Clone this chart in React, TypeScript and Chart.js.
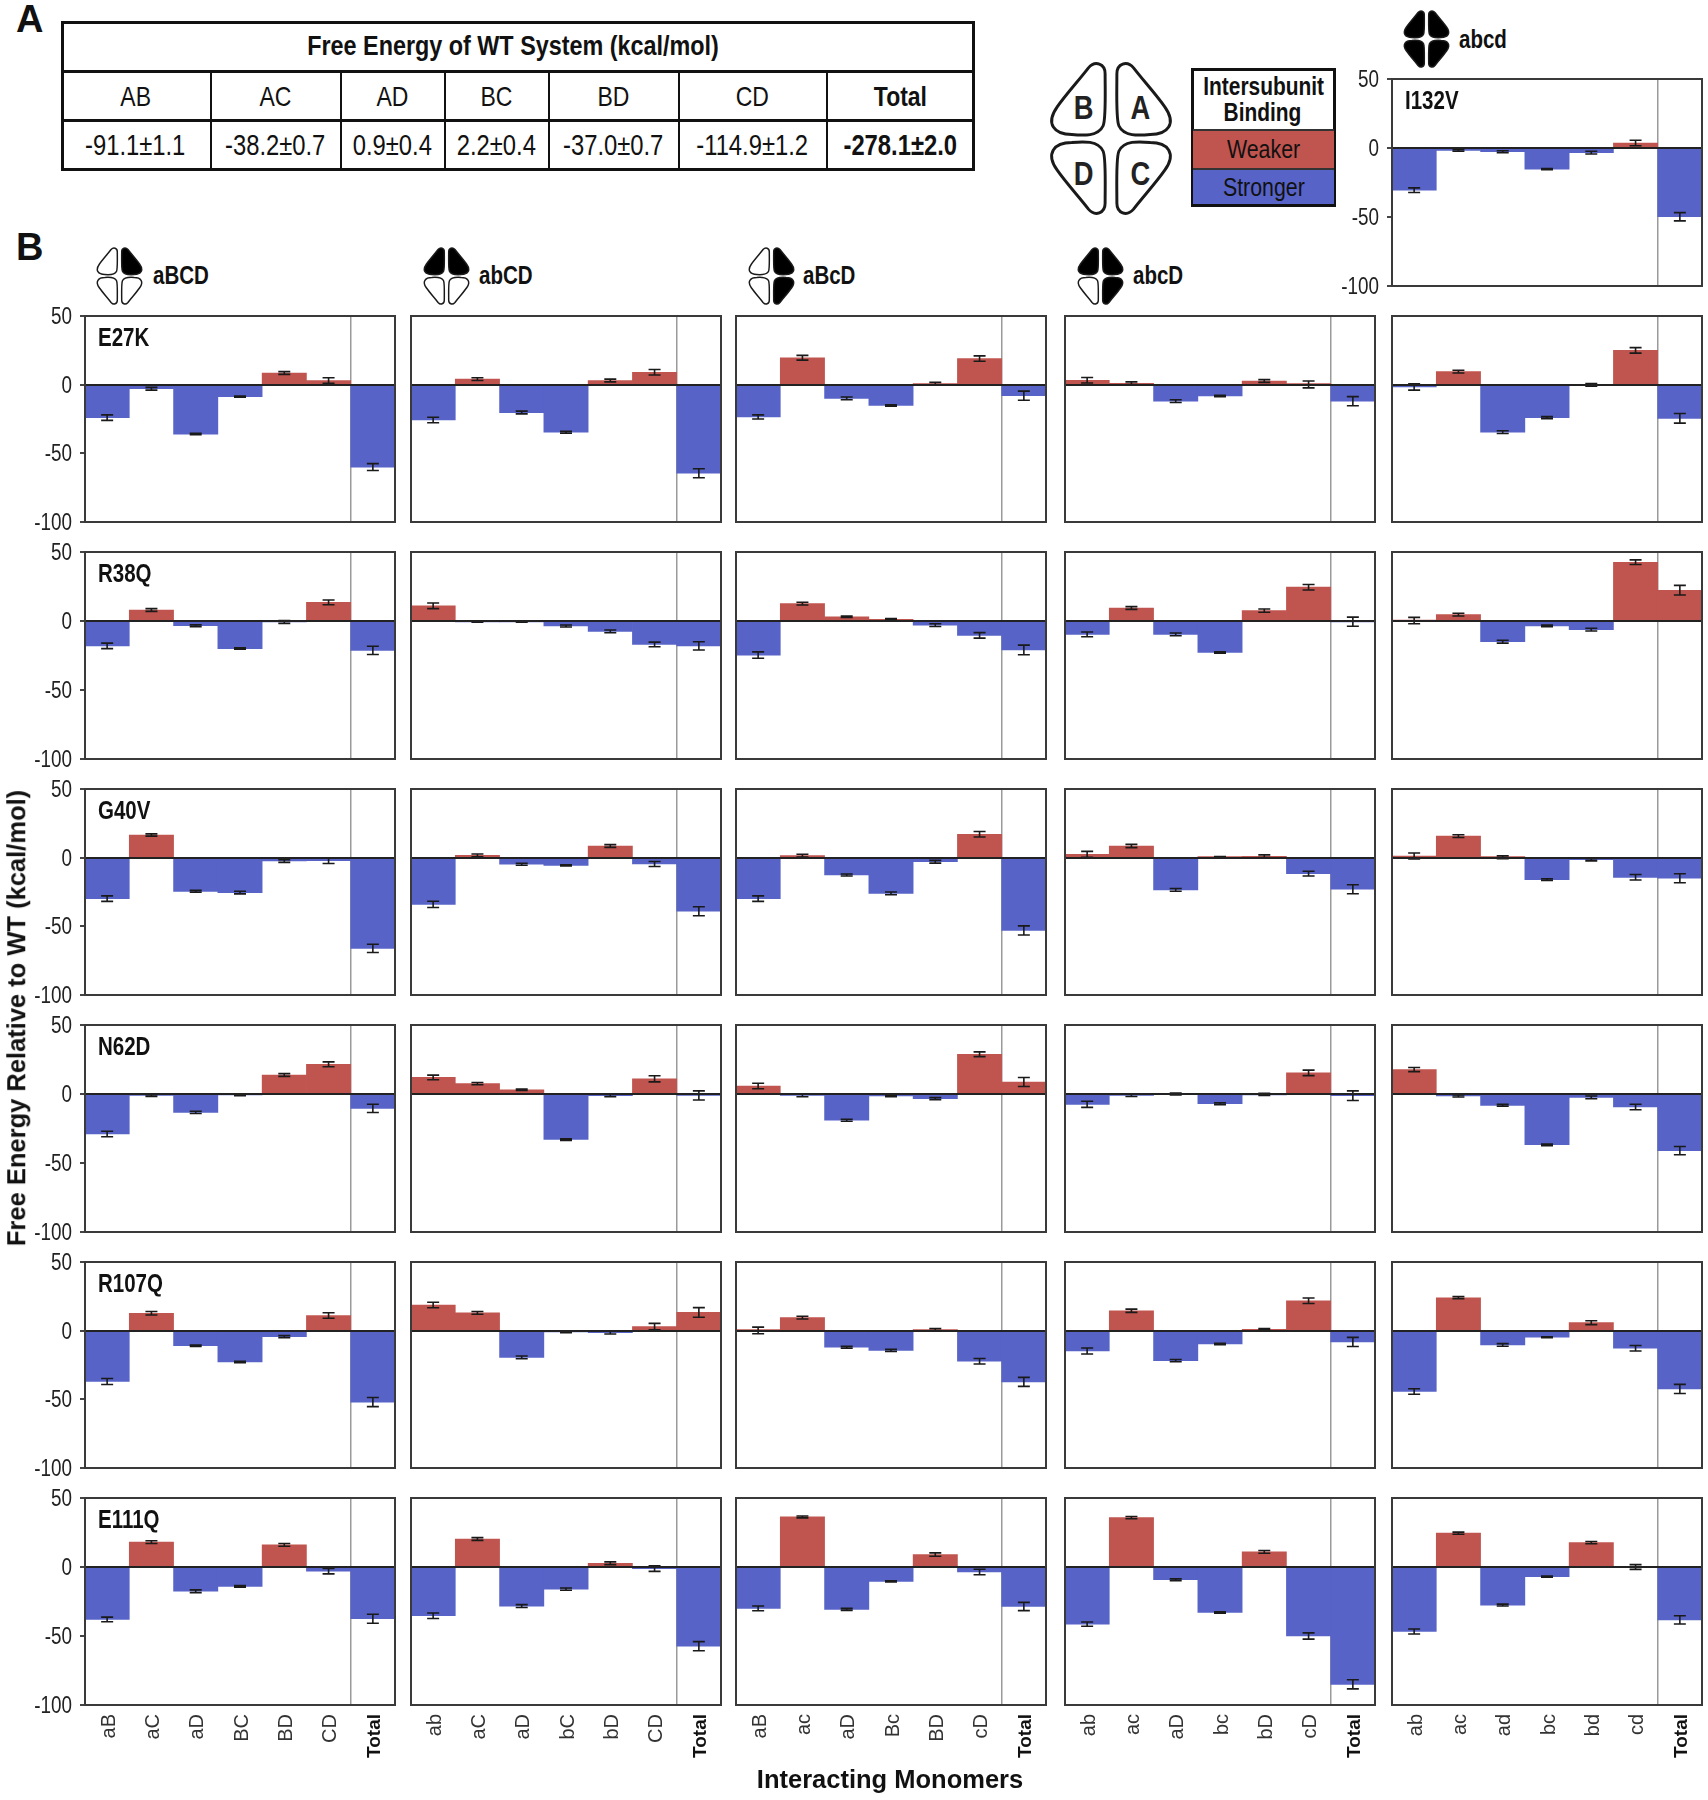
import React, { useEffect, useRef } from "react";
import { Chart, registerables } from "chart.js";

Chart.register(...registerables);

const WIDE = '"Liberation Sans", Arial, sans-serif';
const SQUEEZE = 0.82;
const RED = "#C0544F";
const BLUE = "#5763C7";

const labelsABCDcol = ["aB", "aC", "aD", "BC", "BD", "CD", "Total"];
const labelsAbCDcol = ["ab", "aC", "aD", "bC", "bD", "CD", "Total"];
const labelsABcDcol = ["aB", "ac", "aD", "Bc", "BD", "cD", "Total"];
const labelsAbcDcol = ["ab", "ac", "aD", "bc", "bD", "cD", "Total"];
const labelsAbcdcol = ["ab", "ac", "ad", "bc", "bd", "cd", "Total"];
const columnLabels = [labelsABCDcol, labelsAbCDcol, labelsABcDcol, labelsAbcDcol, labelsAbcdcol];

const mutations = ["E27K", "R38Q", "G40V", "N62D", "R107Q", "E111Q"];

const valuesE27K = [
  [-24, -3, -36, -8.7, 8.5, 3, -60],
  [-25.7, 4, -20.3, -34.6, 3, 9, -64.5],
  [-23.5, 19.6, -10, -15.2, 0.7, 19, -8],
  [3.2, 1, -12, -8.2, 2.7, 0.2, -12],
  [-1.7, 9.5, -34.6, -24, -0.2, 25, -24.5],
];
const errorsE27K = [
  [2, 1, 0.5, 0.5, 1, 2, 2.5],
  [2, 1, 1, 0.7, 1, 2, 3.3],
  [1.5, 1.7, 1, 0.5, 1, 2, 3.3],
  [2, 1, 1, 0.5, 1, 2.5, 3.3],
  [2.3, 1, 1, 0.7, 1, 2, 3.5],
];
const valuesR38Q = [
  [-18, 8, -3.4, -20, -0.7, 13.5, -21.3],
  [11, -0.3, -0.3, -3.6, -7.5, -17, -18],
  [-24.7, 12.6, 3, 1.2, -3, -10.4, -21],
  [-9.7, 9.4, -9.7, -22.8, 7.5, 24.5, -0.5],
  [0.3, 4.6, -15, -3.6, -6.3, 42.6, 22.3],
];
const errorsR38Q = [
  [2, 1, 0.7, 0.5, 1, 1.7, 3],
  [2, 0.5, 0.5, 0.7, 1, 1.7, 3],
  [2.3, 1, 0.5, 0.5, 1, 2, 3.5],
  [1.7, 1, 1, 0.5, 1.2, 2, 3.3],
  [2.3, 1, 1, 0.6, 1, 1.7, 3.5],
];
const valuesG40V = [
  [-29.8, 16.5, -24.5, -25.4, -2.4, -2.2, -66],
  [-34, 1.7, -4.8, -5.6, 8.5, -4.6, -39],
  [-29.8, 1.5, -12.6, -26, -3, 17, -53],
  [2.4, 8.5, -23.5, 0.5, 1, -11.6, -23],
  [1.2, 15.7, 0.3, -16, -1.5, -14.3, -15],
];
const errorsG40V = [
  [2, 0.8, 0.7, 1, 1, 2, 3],
  [2.3, 1, 0.7, 0.4, 1, 1.8, 3.3],
  [2, 1, 0.7, 1, 1, 2, 3.3],
  [2.2, 1.2, 1, 0.3, 1, 1.7, 3.3],
  [2.2, 1, 1, 0.6, 0.8, 2, 3.3],
];
const valuesN62D = [
  [-29, -1, -13.3, -0.7, 13.8, 21.5, -10.4],
  [12, 7.5, 3, -33, -1.2, 11, -1],
  [5.8, -1, -19, -1.4, -3.4, 28.8, 8.7],
  [-7.5, -1, 0, -7, -0.3, 15.3, -1.2],
  [17.7, -1.4, -8.2, -36.8, -2.4, -9.4, -41],
];
const errorsN62D = [
  [2, 0.7, 0.8, 0.6, 1, 1.8, 3],
  [1.7, 0.8, 0.5, 0.6, 0.8, 2.2, 3.3],
  [2, 1, 0.7, 0.6, 0.8, 1.7, 3.3],
  [2.2, 0.8, 0.6, 0.7, 0.8, 2, 3.5],
  [1.5, 0.8, 0.7, 0.6, 1, 2, 3],
];
const valuesR107Q = [
  [-37, 12.7, -11, -22.8, -4.4, 11, -52],
  [18.7, 13, -19.4, -1, -1.4, 3, 13.3],
  [0.2, 9.5, -12, -14.3, 0.7, -22.3, -37.3],
  [-14.8, 14.5, -21.8, -9.7, 1, 21.8, -8.2],
  [-44.3, 24, -10.4, -4.8, 5.8, -12.8, -42.4],
];
const errorsR107Q = [
  [2.2, 1.3, 0.5, 0.5, 0.8, 2, 3.3],
  [2, 1, 1, 0.5, 1, 2.3, 3.5],
  [2.4, 1, 0.7, 0.8, 0.8, 2, 3.3],
  [2.2, 1.2, 0.8, 0.5, 0.6, 2, 3.3],
  [2, 0.8, 1, 0.4, 1.4, 2, 3.3],
];
const valuesE111Q = [
  [-38, 18, -17.6, -14, 16, -3, -37.5],
  [-35.3, 20.3, -28.3, -16, 2.7, -1.2, -57.4],
  [-30, 36.3, -30.7, -10.4, 9, -3.6, -28.6],
  [-41.4, 35.8, -9.2, -33, 11, -50, -85],
  [-46.7, 24.5, -27.6, -7, 17.7, 0, -38.3],
];
const errorsE111Q = [
  [1.7, 1, 1, 0.6, 1, 2, 3.3],
  [2, 1, 1, 0.8, 1, 2, 3.3],
  [1.7, 0.7, 0.7, 0.4, 1.2, 2, 3],
  [1.5, 0.8, 0.7, 0.5, 1, 2.3, 3.3],
  [1.8, 0.8, 0.7, 0.4, 0.8, 1.7, 3],
];
const valuesI132V = [-30.6, -1.7, -2.7, -15.3, -3.4, 3.6, -49.8];
const errorsI132V = [1.7, 0.7, 0.7, 0.4, 1, 2, 3];

const allValues = [valuesE27K, valuesR38Q, valuesG40V, valuesN62D, valuesR107Q, valuesE111Q];
const allErrors = [errorsE27K, errorsR38Q, errorsG40V, errorsN62D, errorsR107Q, errorsE111Q];

const tableHeads = ["AB", "AC", "AD", "BC", "BD", "CD", "Total"];
const tableValues = ["-91.1±1.1", "-38.2±0.7", "0.9±0.4", "2.2±0.4", "-37.0±0.7", "-114.9±1.2", "-278.1±2.0"];
const tableEdges = [61, 210, 340, 444, 548, 678, 826, 975];

const colX = [[85, 395], [411, 721], [736, 1046], [1065, 1375], [1392, 1702]];
const rowY = [[316, 522], [552, 759], [789, 995], [1025, 1232], [1262, 1468], [1498, 1705]];

const errorBarsPlugin = {
  id: "errorBars",
  afterDatasetsDraw(chart: any, _a: any, opts: any) {
    const { ctx, scales } = chart;
    const vals = chart.data.datasets[0].data;
    ctx.save();
    ctx.strokeStyle = "#1a1a1a";
    ctx.lineWidth = 1.6;
    vals.forEach((v: number, i: number) => {
      const x = scales.x.getPixelForValue(i);
      const hi = scales.y.getPixelForValue(v + opts.err[i]);
      const lo = scales.y.getPixelForValue(v - opts.err[i]);
      ctx.beginPath();
      ctx.moveTo(x, hi);
      ctx.lineTo(x, lo);
      ctx.moveTo(x - 6, hi);
      ctx.lineTo(x + 6, hi);
      ctx.moveTo(x - 6, lo);
      ctx.lineTo(x + 6, lo);
      ctx.stroke();
    });
    ctx.restore();
  },
  afterDraw(chart: any) {
    const { ctx, chartArea: a } = chart;
    ctx.save();
    ctx.strokeStyle = "#3a3a3a";
    ctx.lineWidth = 2;
    ctx.strokeRect(a.left, a.top, a.right - a.left, a.bottom - a.top);
    ctx.restore();
  },
};

function Panel({ rect, labels, values, errors, showY, showX, name }: any) {
  const ref = useRef<HTMLCanvasElement | null>(null);
  const LEFT = 62;
  const TOP = 13;
  const RIGHT = 6;
  const BOTTOM = showX ? 72 : 15;
  const [x0, x1, y0, y1] = rect;
  useEffect(() => {
    const zero = (ax: any) => {
      ax.paddingLeft = ax.paddingRight = ax.paddingTop = ax.paddingBottom = 0;
    };
    const chart = new Chart(ref.current as HTMLCanvasElement, {
      type: "bar",
      data: {
        labels,
        datasets: [
          {
            data: values,
            backgroundColor: values.map((v: number) => (v >= 0 ? RED : BLUE)),
            barPercentage: 1,
            categoryPercentage: 1,
            borderWidth: 0,
          },
        ],
      },
      options: {
        animation: false,
        responsive: false,
        devicePixelRatio: 1,
        layout: { padding: { left: 0, top: TOP, right: RIGHT, bottom: showX ? 0 : BOTTOM } },
        plugins: {
          legend: { display: false },
          title: { display: false },
          tooltip: { enabled: false },
          errorBars: { err: errors },
        },
        scales: {
          x: {
            type: "category",
            border: { display: false },
            grid: {
              drawTicks: false,
              color: (c: any) => (c.index === 6 ? "#9a9a9a" : "rgba(0,0,0,0)"),
              lineWidth: 1.5,
            },
            ticks: {
              display: showX,
              autoSkip: false,
              maxRotation: 90,
              minRotation: 90,
              padding: 9,
              color: (c: any) => (c.index === 6 ? "#111" : "#333"),
              font: (c: any) => ({
                family: WIDE,
                size: c.index === 6 ? 19 : 20,
                weight: c.index === 6 ? "bold" : "normal",
              }),
            },
            afterFit: (ax: any) => {
              ax.height = showX ? BOTTOM : 0;
              zero(ax);
            },
            afterUpdate: (ax: any) => {
              if (ax._shifted) return;
              ax._shifted = true;
              const draw = ax.drawLabels;
              ax.drawLabels = function (area: any) {
                const c = this.ctx;
                c.save();
                c.translate(2, 0);
                draw.call(this, area);
                c.restore();
              };
            },
          },
          y: {
            min: -100,
            max: 50,
            border: { display: false },
            grid: {
              z: 1,
              lineWidth: 2,
              color: (c: any) => (c.tick && c.tick.value === 0 ? "#222" : "rgba(0,0,0,0)"),
              drawTicks: showY,
              tickLength: 5,
              tickColor: showY ? "#444" : "rgba(0,0,0,0)",
            },
            ticks: {
              display: showY,
              stepSize: 50,
              padding: 7,
              color: "#222",
              font: { family: WIDE, size: 23 },
            },
            afterFit: (ax: any) => {
              ax.width = LEFT;
              zero(ax);
            },
            afterUpdate: (ax: any) => {
              if (ax._squeezed) return;
              ax._squeezed = true;
              const draw = ax.drawLabels;
              ax.drawLabels = function (area: any) {
                const c = this.ctx;
                const anchor = this.right - 12;
                c.save();
                c.translate(anchor - 1, 1.5);
                c.scale(SQUEEZE, 1);
                c.translate(-anchor, 0);
                draw.call(this, area);
                c.restore();
              };
            },
          },
        },
      } as any,
      plugins: [errorBarsPlugin],
    } as any);
    return () => chart.destroy();
  }, []);
  return (
    <>
      <canvas
        ref={ref}
        width={x1 - x0 + LEFT + RIGHT}
        height={y1 - y0 + TOP + BOTTOM}
        style={{
          position: "absolute",
          left: x0 - LEFT,
          top: y0 - TOP,
          width: x1 - x0 + LEFT + RIGHT,
          height: y1 - y0 + TOP + BOTTOM,
        }}
      />
      {name ? <Tag x={x0 + 13} y={y0 + 21} size={25}>{name}</Tag> : null}
    </>
  );
}

function txt(left: number, top: number, size: number, weight: string): React.CSSProperties {
  return {
    position: "absolute",
    left,
    top,
    fontSize: size,
    fontWeight: weight as any,
    fontFamily: WIDE,
    color: "#111",
    whiteSpace: "nowrap",
    lineHeight: 1,
  };
}

function Tag({ x, y, size, children }: any) {
  return (
    <div
      style={{
        ...txt(x, y, size, "bold"),
        transform: `translateY(-50%) scaleX(${SQUEEZE})`,
        transformOrigin: "left center",
      }}
    >
      {children}
    </div>
  );
}

function Nar({ children }: any) {
  return <span style={{ display: "inline-block", transform: `scaleX(${SQUEEZE})` }}>{children}</span>;
}

const LOBE = "M2,11 C2,1 12,-3 19,5 C29,18 42,32 51,45 C63,62 54,73 36,73 C24,74 9,75 4,64 C1,57 2,30 2,11 Z";

function Clover({ x, y, w, h, fills, sw, letters }: any) {
  const lobes = [
    { k: "A", t: "translate(65,0)", cx: 91 },
    { k: "B", t: "translate(57,0) scale(-1,1)", cx: 33 },
    { k: "C", t: "translate(65,154) scale(1,-1)", cx: 91 },
    { k: "D", t: "translate(57,154) scale(-1,-1)", cx: 33 },
  ];
  return (
    <svg
      viewBox="-2 -2 126 158"
      style={{ position: "absolute", left: x, top: y, width: w, height: h, overflow: "visible" }}
    >
      {lobes.map((l) => (
        <path
          key={l.k}
          d={LOBE}
          transform={l.t}
          fill={fills.includes(l.k) ? "#000" : "#fff"}
          stroke="#1a1a1a"
          strokeWidth={sw}
        />
      ))}
      {letters
        ? lobes.map((l) => (
            <text
              key={l.k}
              transform={`translate(${l.cx},${l.k === "A" || l.k === "B" ? 57 : 124}) scale(${SQUEEZE},1)`}
              textAnchor="middle"
              fontFamily={WIDE}
              fontWeight="bold"
              fontSize={34}
              fill="#222"
            >
              {l.k}
            </text>
          ))
        : null}
    </svg>
  );
}

const headers = [
  { label: "aBCD", ix: 96, lx: 153, fills: ["A"] },
  { label: "abCD", ix: 423, lx: 479, fills: ["A", "B"] },
  { label: "aBcD", ix: 748, lx: 803, fills: ["A", "C"] },
  { label: "abcD", ix: 1077, lx: 1133, fills: ["A", "B", "C"] },
];

export default function App() {
  const cellBorder = "2px solid #111";
  const tw = tableEdges[7] - tableEdges[0];
  return (
    <div style={{ position: "absolute", left: 0, top: 0, width: 1708, height: 1800, overflow: "hidden", background: "#fff" }}>
      <div style={txt(16, 0, 38, "bold")}>A</div>
      <div style={txt(16, 228, 38, "bold")}>B</div>

      <div
        style={{
          position: "absolute",
          left: tableEdges[0],
          top: 21,
          width: tw,
          height: 150,
          border: "3px solid #111",
          boxSizing: "border-box",
        }}
      />
      <div style={{ ...txt(tableEdges[0] - 5, 20, 28.5, "bold"), width: tw, height: 50, lineHeight: "50px", textAlign: "center" }}>
        <Nar>Free Energy of WT System (kcal/mol)</Nar>
      </div>
      <div style={{ position: "absolute", left: tableEdges[0], top: 70, width: tw, borderTop: "3px solid #111" }} />
      <div style={{ position: "absolute", left: tableEdges[0], top: 119, width: tw, borderTop: "3px solid #111" }} />
      {tableHeads.map((h, i) => (
        <React.Fragment key={h}>
          {i > 0 ? (
            <div style={{ position: "absolute", left: tableEdges[i], top: 71, height: 98, borderLeft: cellBorder }} />
          ) : null}
          <div
            style={{
              ...txt(tableEdges[i], 72, 28, i === 6 ? "bold" : "normal"),
              width: tableEdges[i + 1] - tableEdges[i],
              height: 49,
              lineHeight: "49px",
              textAlign: "center",
            }}
          >
            <Nar>{h}</Nar>
          </div>
          <div
            style={{
              ...txt(tableEdges[i], 121, 29, i === 6 ? "bold" : "normal"),
              width: tableEdges[i + 1] - tableEdges[i],
              height: 49,
              lineHeight: "49px",
              textAlign: "center",
            }}
          >
            <Nar>{tableValues[i]}</Nar>
          </div>
        </React.Fragment>
      ))}

      <Clover x={1049} y={61} w={124} h={155} fills={[]} sw={3} letters />

      <div style={{ position: "absolute", left: 1191, top: 68, width: 145, height: 139, border: "3px solid #111", boxSizing: "border-box", background: "#fff" }} />
      <div style={{ ...txt(1190, 73, 25.5, "bold"), width: 145, lineHeight: "26px", textAlign: "center" }}>
        <Nar>Intersubunit</Nar>
        <br />
        <Nar>Binding</Nar>
      </div>
      <div style={{ ...txt(1193, 129, 26, "normal"), width: 141, height: 39, lineHeight: "36px", textAlign: "center", background: RED, borderTop: "2px solid #333", boxSizing: "border-box" }}>
        <Nar>Weaker</Nar>
      </div>
      <div style={{ ...txt(1193, 168, 26, "normal"), width: 141, height: 36, lineHeight: "34px", textAlign: "center", background: BLUE, borderTop: "2px solid #333", boxSizing: "border-box" }}>
        <Nar>Stronger</Nar>
      </div>

      <Clover x={1403} y={10} w={47} h={58} fills={["A", "B", "C", "D"]} sw={4} />
      <Tag x={1459} y={39} size={25}>abcd</Tag>
      {headers.map((h) => (
        <React.Fragment key={h.label}>
          <Clover x={h.ix} y={247} w={47} h={58} fills={h.fills} sw={4} />
          <Tag x={h.lx} y={275} size={25}>{h.label}</Tag>
        </React.Fragment>
      ))}

      <Panel
        rect={[colX[4][0], colX[4][1], 79, 286]}
        labels={labelsAbcdcol}
        values={valuesI132V}
        errors={errorsI132V}
        showY
        showX={false}
        name="I132V"
      />
      {mutations.map((m, r) =>
        columnLabels.map((labels, c) => (
          <Panel
            key={m + c}
            rect={[colX[c][0], colX[c][1], rowY[r][0], rowY[r][1]]}
            labels={labels}
            values={allValues[r][c]}
            errors={allErrors[r][c]}
            showY={c === 0}
            showX={r === 5}
            name={c === 0 ? m : ""}
          />
        ))
      )}

      <div style={{ ...txt(890, 1780, 25.5, "bold"), transform: "translate(-50%,-50%)" }}>Interacting Monomers</div>
      <div style={{ position: "absolute", left: 17, top: 1018, width: 0, height: 0 }}>
        <div style={{ ...txt(0, 0, 25.5, "bold"), transform: "translate(-50%,-50%) rotate(-90deg)" }}>
          Free Energy Relative to WT (kcal/mol)
        </div>
      </div>
    </div>
  );
}
